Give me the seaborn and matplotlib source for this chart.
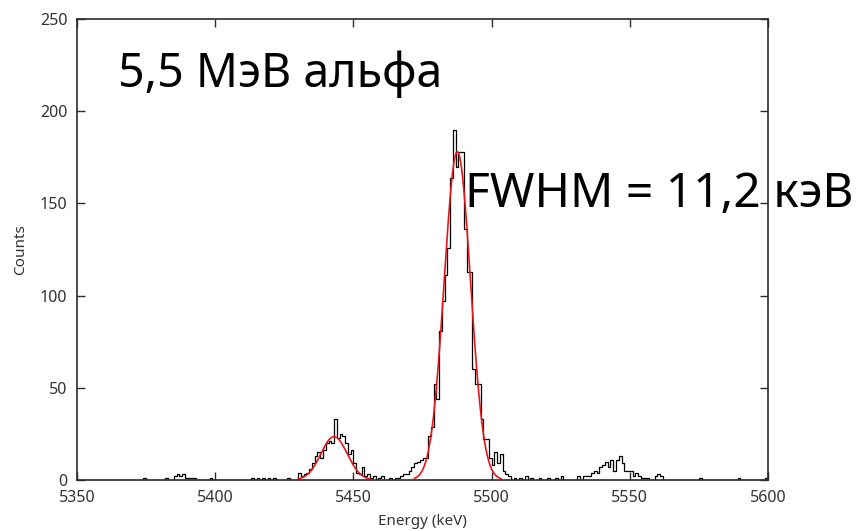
import numpy as np
import pandas as pd
import matplotlib
matplotlib.use("Agg")
import matplotlib.pyplot as plt
import seaborn as sns

# ---- data ----
# nonzero 1-keV bins: left edge of bin (keV) and counts
noise_left_E = [5374, 5382, 5385, 5386, 5387, 5388, 5389, 5390, 5391, 5392, 5398,
                5413, 5415, 5417, 5419, 5421, 5426]
noise_left_C = [1, 1, 2, 3, 2, 3, 1, 1, 1, 1, 1,
                1, 1, 1, 1, 1, 1]

small_peak_E = [5430, 5431, 5432, 5433, 5434, 5435, 5436, 5437, 5438, 5439, 5440,
                5441, 5442, 5443, 5444, 5445, 5446, 5447, 5448, 5449, 5450, 5451,
                5452, 5453, 5454, 5455, 5456, 5457, 5459, 5460, 5463, 5465, 5466]
small_peak_C = [4, 2, 3, 4, 6, 9, 13, 15, 12, 16, 20,
                21, 20, 33, 23, 25, 24, 20, 14, 16, 9, 4,
                3, 7, 2, 3, 1, 2, 1, 2, 1, 1, 1]

main_peak_E = [5467, 5468, 5469, 5470, 5471, 5472, 5473, 5474, 5475, 5476, 5477,
               5478, 5479, 5480, 5481, 5482, 5483, 5484, 5485, 5486, 5487, 5488,
               5489, 5490, 5491, 5492, 5493, 5494, 5495, 5496, 5497, 5498, 5499,
               5500, 5501, 5502, 5503, 5504, 5505, 5506, 5508, 5510, 5512, 5514,
               5517, 5520]
main_peak_C = [2, 3, 3, 5, 7, 9, 10, 11, 12, 12, 24,
               29, 52, 44, 81, 97, 111, 126, 164, 190, 170, 178,
               178, 136, 113, 113, 60, 52, 52, 33, 22, 22, 12,
               8, 15, 9, 14, 5, 3, 2, 1, 1, 2, 1,
               1, 1]

right_peak_E = [5523, 5525, 5531, 5533, 5534, 5535, 5536, 5537, 5538, 5539, 5540,
                5541, 5542, 5543, 5544, 5545, 5546, 5547, 5548, 5549, 5550, 5551,
                5552, 5553, 5554, 5555, 5556, 5559, 5560, 5561, 5575, 5589, 5599]
right_peak_C = [1, 2, 2, 2, 2, 2, 4, 5, 4, 7, 8,
                10, 7, 11, 5, 11, 13, 9, 5, 5, 5, 2,
                4, 2, 1, 1, 1, 2, 3, 2, 1, 1, 1]

# Gaussian fit parameters (red curves)
fit_center = [5443.0, 5487.6]
fit_amplitude = [23.5, 178.0]
fit_sigma = [4.76, 4.76]
fit_low = [5430.0, 5472.0]
fit_high = [5456.0, 5503.5]

x_ticks = [5350, 5400, 5450, 5500, 5550, 5600]
y_ticks = [0, 50, 100, 150, 200, 250]

label_alpha = "5,5 МэВ альфа"
label_fwhm = "FWHM = 11,2 кэВ"

# ---- build tables ----
hist_df = pd.DataFrame({
    "energy": np.array(noise_left_E + small_peak_E + main_peak_E + right_peak_E) + 0.5,
    "counts": noise_left_C + small_peak_C + main_peak_C + right_peak_C,
})

fit_frames = []
for i in range(len(fit_center)):
    e = np.linspace(fit_low[i], fit_high[i], 300)
    c = fit_amplitude[i] * np.exp(-0.5 * ((e - fit_center[i]) / fit_sigma[i]) ** 2)
    fit_frames.append(pd.DataFrame({"energy": e, "counts": c, "peak": i}))
fit_df = pd.concat(fit_frames)

# ---- plot ----
sns.set_theme(style="white")
plt.rcParams["font.family"] = ["Noto Sans", "DejaVu Sans"]

fig = plt.figure(figsize=(8.61, 5.31), dpi=100)
ax = fig.add_axes([77 / 861, 1 - 480 / 531, (768 - 77) / 861, (480 - 19) / 531])

sns.histplot(data=hist_df, x="energy", weights="counts", binwidth=1,
             binrange=(5366, 5600), element="step", fill=False,
             color="black", linewidth=0.9, ax=ax)
sns.lineplot(data=fit_df, x="energy", y="counts", units="peak", estimator=None,
             color="#e8161b", linewidth=1.2, ax=ax)

ax.set_xlim(5350, 5600)
ax.set_ylim(0, 250)
ax.set_xticks(x_ticks)
ax.set_yticks(y_ticks)
ax.tick_params(direction="in", length=6, width=1.0, color="#2b2b2b",
               labelsize=11.5, labelcolor="#333333", top=True, right=True,
               left=True, bottom=True, pad=7)
for s in ax.spines.values():
    s.set_color("#2b2b2b")
    s.set_linewidth(1.2)
ax.set_xlabel("Energy (keV)", fontsize=11, color="#333333", labelpad=6)
ax.set_ylabel("Counts", fontsize=11, color="#333333", labelpad=8)

ax.text(5364.8, 213, label_alpha, fontsize=33.5, color="black", va="baseline",
        ha="left", clip_on=False)
ax.text(5490.4, 148, label_fwhm, fontsize=34.5, color="black", va="baseline",
        ha="left", clip_on=False)

fig.savefig("out.png", dpi=100)
